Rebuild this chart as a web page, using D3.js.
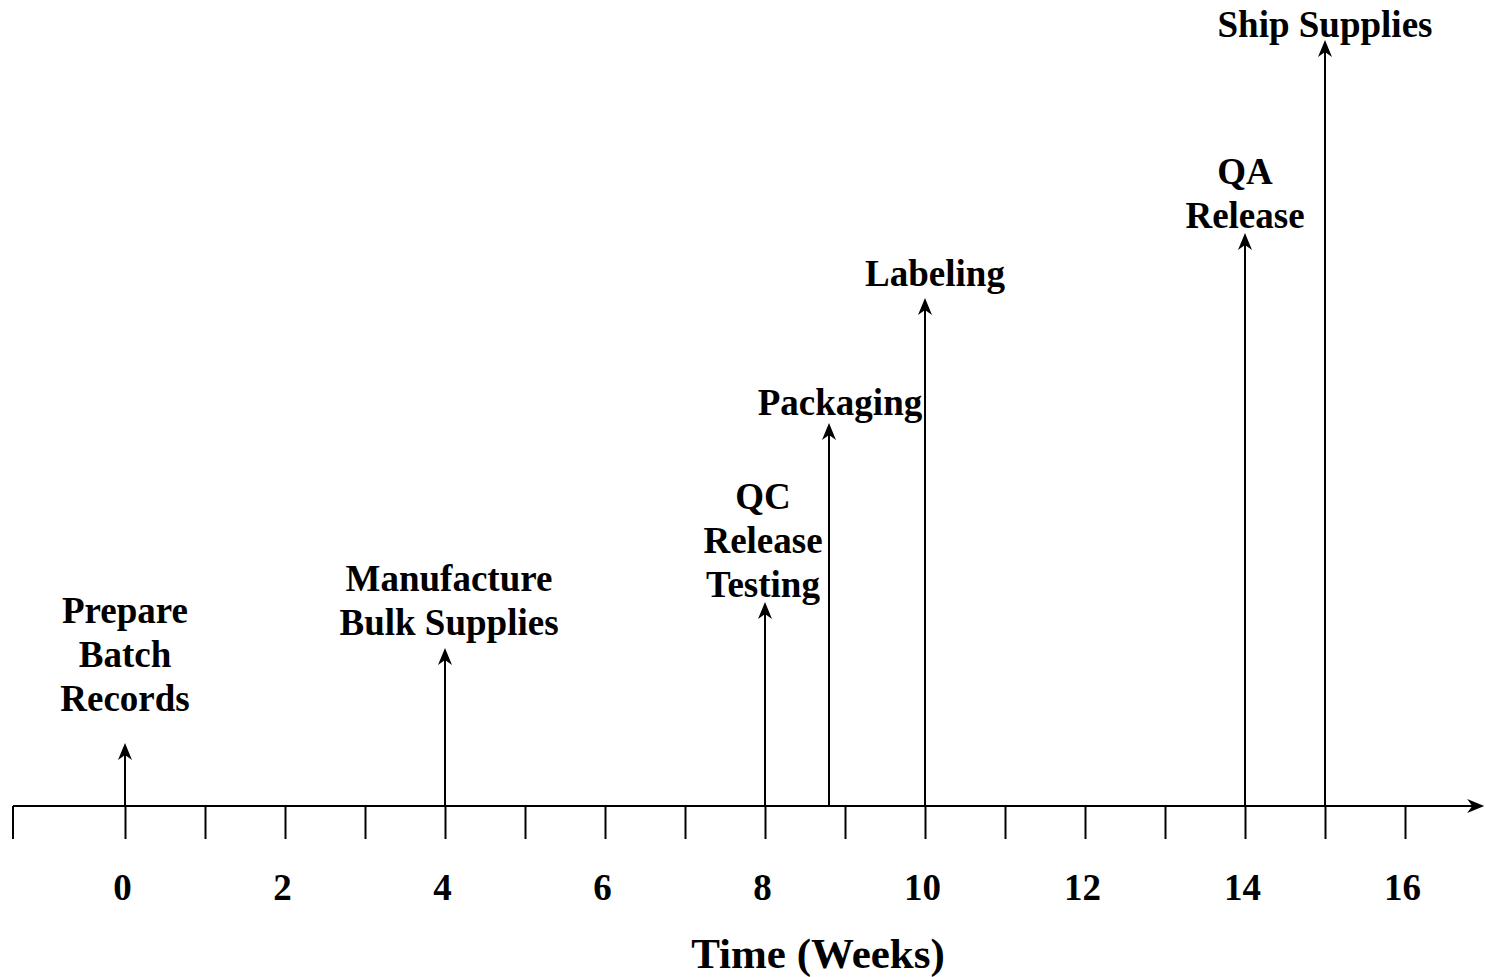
<!DOCTYPE html>
<html>
<head>
<meta charset="utf-8">
<script src="https://cdn.jsdelivr.net/npm/d3@7"></script>
<style>
  html, body { margin: 0; padding: 0; background: #fff; }
  svg { display: block; }
  text { font-family: "Liberation Serif", "Times New Roman", serif; font-weight: bold; fill: #000; }
</style>
</head>
<body>
<svg id="chart" width="1485" height="977"></svg>
<script>
// ---- data ----
const milestones = [
  ["Prepare", "Batch", "Records"],
  ["Manufacture", "Bulk Supplies"],
  ["QC", "Release", "Testing"],
  ["Packaging"],
  ["Labeling"],
  ["QA", "Release"],
  ["Ship Supplies"]
];
const weeks = [0, 4, 8, 8.8, 10, 14, 15];
const heights = [63, 158, 204, 383, 508, 573, 766];
const tickWeeks = d3.range(0, 17);
const tickLabels = ["0", "", "2", "", "4", "", "6", "", "8", "", "10", "", "12", "", "14", "", "16"];
const axisTitle = "Time (Weeks)";

// ---- layout / style ----
const labelDx = [0, 4, -2, 11, 10, 0, 0];
const labelGap = [32, 13, 5, 8, 12, 5, 3];
const lineH = 44;

const svg = d3.select("#chart");
const axisY = 806;
const x = d3.scaleLinear().domain([0, 16]).range([125, 1405]);
const y = d3.scaleLinear().domain([0, 806]).range([axisY, 0]);

const arrowHead = "M0,0 L-7,17 L0,12 L7,17 Z";

// axis line
const xStart = x(-1.4), xEnd = x(16.99);
svg.append("line")
  .attr("x1", xStart).attr("x2", xEnd - 4)
  .attr("y1", axisY).attr("y2", axisY)
  .attr("stroke", "#000").attr("stroke-width", 2);
svg.append("path")
  .attr("d", arrowHead)
  .attr("transform", `translate(${xEnd},${axisY}) rotate(90)`)
  .attr("fill", "#000");
// left end tick
svg.append("line")
  .attr("x1", xStart).attr("x2", xStart)
  .attr("y1", axisY).attr("y2", axisY + 33)
  .attr("stroke", "#000").attr("stroke-width", 2);

// ticks via d3 axis
const axis = d3.axisBottom(x)
  .tickValues(tickWeeks)
  .tickSizeInner(33)
  .tickSizeOuter(0)
  .tickPadding(0)
  .tickFormat((d, i) => tickLabels[i]);
const gAxis = svg.append("g").attr("transform", `translate(0,${axisY})`).call(axis);
gAxis.select(".domain").remove();
gAxis.selectAll(".tick line").attr("stroke", "#000").attr("stroke-width", 2);
gAxis.selectAll(".tick text")
  .attr("y", 94).attr("dy", 0).attr("dx", -3)
  .attr("font-size", 37)
  .attr("font-family", "Liberation Serif")
  .attr("font-weight", "bold")
  .attr("fill", "#000");

// axis title
svg.append("text")
  .attr("x", 818).attr("y", 968)
  .attr("text-anchor", "middle")
  .attr("font-size", 43)
  .text(axisTitle);

// milestone arrows
const g = svg.append("g");
milestones.forEach((lines, i) => {
  const px = x(weeks[i]);
  const tip = y(heights[i]);
  g.append("line")
    .attr("x1", px).attr("x2", px)
    .attr("y1", axisY).attr("y2", tip + 8)
    .attr("stroke", "#000").attr("stroke-width", 2);
  g.append("path")
    .attr("d", arrowHead)
    .attr("transform", `translate(${px},${tip})`)
    .attr("fill", "#000");
  const lastBase = tip - labelGap[i];
  const n = lines.length;
  const t = g.append("text")
    .attr("text-anchor", "middle")
    .attr("font-size", 37);
  lines.forEach((s, j) => {
    t.append("tspan")
      .attr("x", px + labelDx[i])
      .attr("y", lastBase - (n - 1 - j) * lineH)
      .text(s);
  });
});
</script>
</body>
</html>
